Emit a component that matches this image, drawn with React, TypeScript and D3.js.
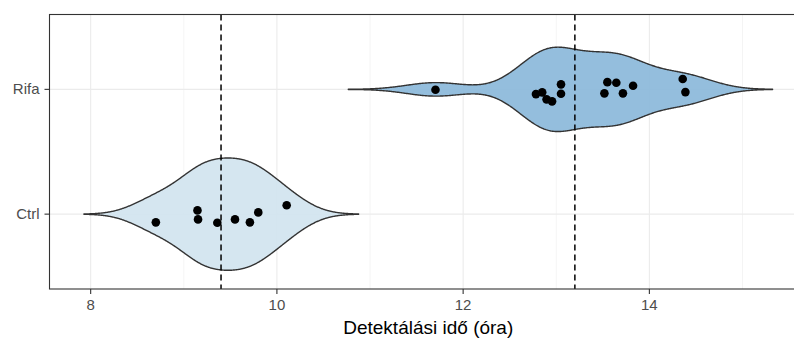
import React, { useEffect, useRef } from "react";
import * as d3 from "d3";

// Detection times (hours) per group, with the vertical jitter offsets used for the dots
const groups = ["Ctrl", "Rifa"];
const ctrlTimes = [8.70, 9.147, 9.153, 9.36, 9.55, 9.71, 9.80, 10.105];
const ctrlJitter = [-0.066, 0.030, -0.042, -0.069, -0.042, -0.066, 0.014, 0.071];
const rifaTimes = [11.703, 12.782, 12.849, 12.896, 12.955, 13.051, 13.051, 13.517, 13.549, 13.645, 13.716, 13.825, 14.358, 14.387];
const rifaJitter = [-0.003, -0.038, -0.024, -0.080, -0.096, 0.040, -0.035, -0.032, 0.058, 0.053, -0.032, 0.029, 0.083, -0.022];
const groupMeans = [9.40, 13.20];
const xTicks = [8, 10, 12, 14];
const xMinor = [9, 11, 13, 15];
const fills = ["#d1e4ef", "#8bb9da"];

const W = 794;
const H = 342;
const panel = { left: 49.5, top: 14.5, right: 807, bottom: 289 };

// Silverman's rule of thumb (R's bw.nrd0)
function bwNrd0(v: number[]) {
  const s = v.slice().sort((a, b) => a - b);
  const sd = d3.deviation(s) as number;
  const iqr = ((d3.quantileSorted(s, 0.75) as number) - (d3.quantileSorted(s, 0.25) as number)) / 1.34;
  return 0.9 * Math.min(sd, iqr) * Math.pow(s.length, -0.2);
}

// Gaussian kernel density, extended three bandwidths past the data
function kde(v: number[], bw: number, n = 512) {
  const lo = (d3.min(v) as number) - 3 * bw;
  const hi = (d3.max(v) as number) + 3 * bw;
  const out: [number, number][] = [];
  for (let i = 0; i < n; i++) {
    const x = lo + ((hi - lo) * i) / (n - 1);
    let s = 0;
    for (const xi of v) {
      const u = (x - xi) / bw;
      s += Math.exp(-0.5 * u * u);
    }
    out.push([x, s / (v.length * bw * Math.sqrt(2 * Math.PI))]);
  }
  return out;
}

export default function App() {
  const ref = useRef<SVGSVGElement>(null);

  useEffect(() => {
    const svg = d3.select(ref.current);
    svg.selectAll("*").remove();

    const series = [
      { name: groups[0], times: ctrlTimes, jitter: ctrlJitter, pos: 1 },
      { name: groups[1], times: rifaTimes, jitter: rifaJitter, pos: 2 },
    ];
    const dens = series.map((s) => kde(s.times, bwNrd0(s.times)));
    const maxD = d3.max(dens.flat(), (d) => d[1]) as number;

    const lo = d3.min(dens, (d) => d[0][0]) as number;
    const hi = d3.max(dens, (d) => d[d.length - 1][0]) as number;
    const pad = (hi - lo) * 0.05;

    const x = d3.scaleLinear().domain([lo - pad, hi + pad]).range([panel.left, panel.right]);
    const y = d3.scaleLinear().domain([0.4, 2.6]).range([panel.bottom, panel.top]);

    const defs = svg.append("defs");
    defs.append("clipPath").attr("id", "pclip")
      .append("rect")
      .attr("x", panel.left).attr("y", panel.top)
      .attr("width", panel.right - panel.left).attr("height", panel.bottom - panel.top);

    const g = svg.append("g").attr("clip-path", "url(#pclip)");
    g.append("rect")
      .attr("x", panel.left).attr("y", panel.top)
      .attr("width", panel.right - panel.left).attr("height", panel.bottom - panel.top)
      .attr("fill", "#fff");

    // grid
    g.selectAll(".minor").data(xMinor).enter().append("line")
      .attr("x1", (d) => x(d)).attr("x2", (d) => x(d))
      .attr("y1", panel.top).attr("y2", panel.bottom)
      .attr("stroke", "#ebebeb").attr("stroke-width", 0.55);
    g.selectAll(".major").data(xTicks).enter().append("line")
      .attr("x1", (d) => x(d)).attr("x2", (d) => x(d))
      .attr("y1", panel.top).attr("y2", panel.bottom)
      .attr("stroke", "#ebebeb").attr("stroke-width", 1.1);
    g.selectAll(".hmajor").data(series).enter().append("line")
      .attr("x1", panel.left).attr("x2", panel.right)
      .attr("y1", (d) => y(d.pos)).attr("y2", (d) => y(d.pos))
      .attr("stroke", "#ebebeb").attr("stroke-width", 1.1);

    // violins (area-scaled, max half width 0.45 of a category)
    series.forEach((s, i) => {
      const d = dens[i];
      const half = (v: number) => (v / maxD) * 0.45;
      const area = d3.area<[number, number]>()
        .x((p) => x(p[0]))
        .y0((p) => y(s.pos - half(p[1])))
        .y1((p) => y(s.pos + half(p[1])));
      g.append("path")
        .datum(d)
        .attr("d", area)
        .attr("fill", fills[i])
        .attr("fill-opacity", 0.92)
        .attr("stroke", "#333333")
        .attr("stroke-width", 1.4)
        .attr("stroke-linejoin", "round");
    });

    // group means
    g.selectAll(".mean").data(groupMeans).enter().append("line")
      .attr("x1", (d) => x(d)).attr("x2", (d) => x(d))
      .attr("y1", panel.top).attr("y2", panel.bottom)
      .attr("stroke", "#000").attr("stroke-width", 1.5)
      .attr("stroke-dasharray", "6,4");

    // dots
    series.forEach((s) => {
      g.selectAll(null).data(s.times).enter().append("circle")
        .attr("cx", (d) => x(d))
        .attr("cy", (_d, j) => y(s.pos + s.jitter[j]))
        .attr("r", 4.3)
        .attr("fill", "#000");
    });

    // panel border
    svg.append("rect")
      .attr("x", panel.left).attr("y", panel.top)
      .attr("width", panel.right - panel.left).attr("height", panel.bottom - panel.top)
      .attr("fill", "none").attr("stroke", "#333333").attr("stroke-width", 1.1);

    const font = "'Liberation Sans', Arial, sans-serif";

    // x axis
    const xa = svg.append("g");
    xTicks.forEach((t) => {
      xa.append("line")
        .attr("x1", x(t)).attr("x2", x(t))
        .attr("y1", panel.bottom).attr("y2", panel.bottom + 5)
        .attr("stroke", "#333333").attr("stroke-width", 1.1);
      xa.append("text")
        .attr("x", x(t)).attr("y", panel.bottom + 21)
        .attr("text-anchor", "middle")
        .attr("font-family", font).attr("font-size", 15)
        .attr("fill", "#4d4d4d")
        .text(String(t));
    });

    // y axis
    series.forEach((s) => {
      svg.append("line")
        .attr("x1", panel.left - 5).attr("x2", panel.left)
        .attr("y1", y(s.pos)).attr("y2", y(s.pos))
        .attr("stroke", "#333333").attr("stroke-width", 1.1);
      svg.append("text")
        .attr("x", panel.left - 10).attr("y", y(s.pos) + 5)
        .attr("text-anchor", "end")
        .attr("font-family", font).attr("font-size", 15)
        .attr("fill", "#4d4d4d")
        .text(s.name);
    });

    svg.append("text")
      .attr("x", (panel.left + panel.right) / 2).attr("y", 334)
      .attr("text-anchor", "middle")
      .attr("font-family", font).attr("font-size", 19)
      .attr("fill", "#000")
      .text("Detektálási idő (óra)");
  }, []);

  return <svg ref={ref} width={W} height={H} style={{ display: "block", position: "absolute", left: 0, top: 0 }} />;
}
